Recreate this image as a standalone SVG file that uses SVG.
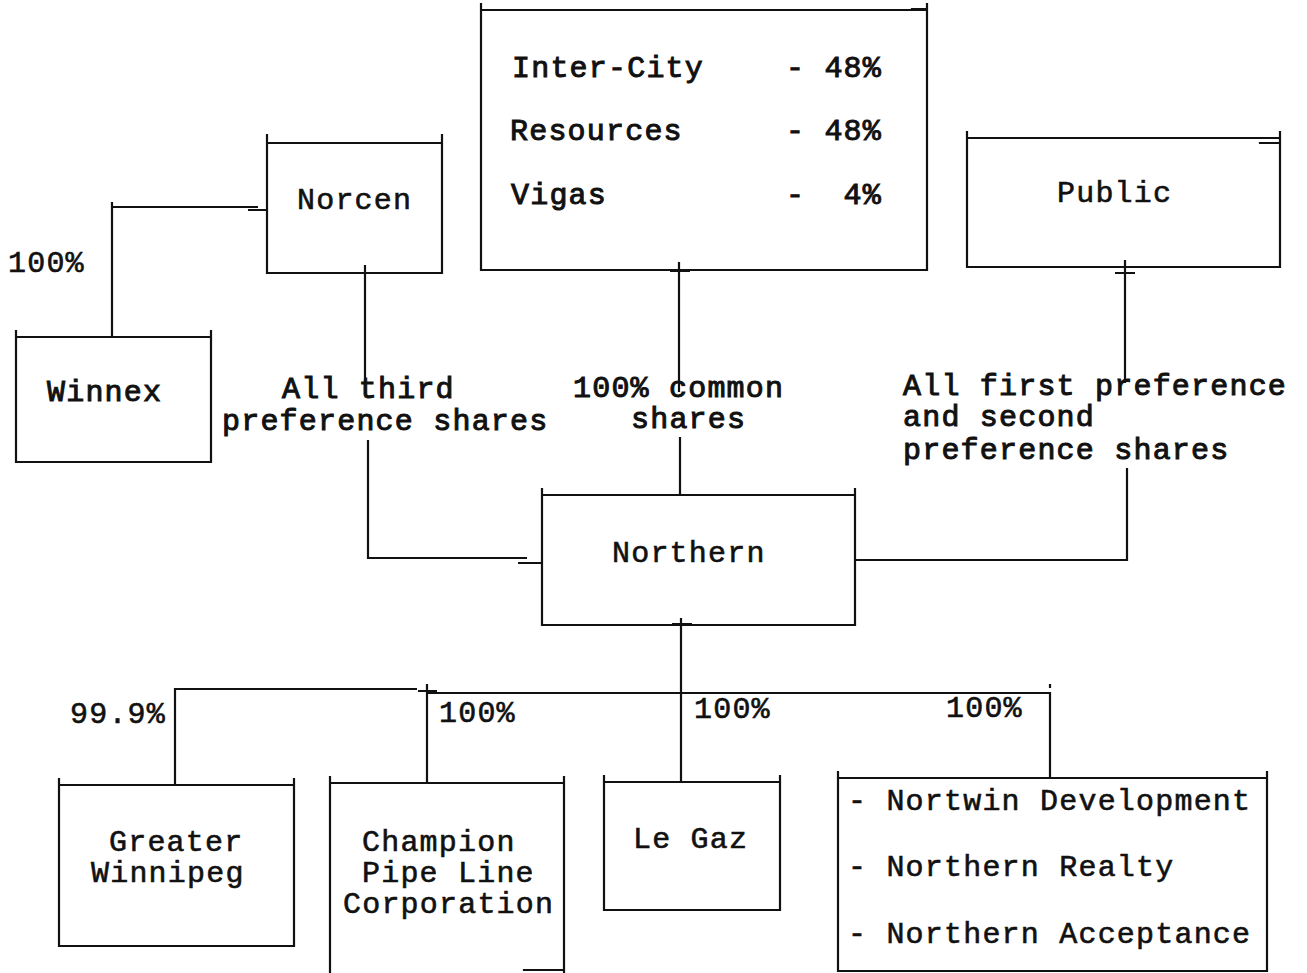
<svg xmlns="http://www.w3.org/2000/svg" width="1307" height="973" viewBox="0 0 1307 973">
<style>
.bx{fill:none;stroke:#111;stroke-width:2.2;stroke-linecap:square}
.cn{fill:none;stroke:#111;stroke-width:2.2}
text{font-family:"Liberation Mono","DejaVu Sans Mono",monospace;font-size:30px;letter-spacing:1.2px;fill:#111;stroke:#111;stroke-width:0.6;white-space:pre}
.h{stroke-width:1}
</style>
<rect width="1307" height="973" fill="#fff"/>
<g id="connectors">
<path class="cn" d="M112,202 V337 M112,207 H258 M248,210 H267"/>
<path class="cn" d="M365,265 V385 M368,440 V558 H527 M518,563 H542"/>
<path class="cn" d="M679,262 V392 M680,437 V495 M670,271 H690"/>
<path class="cn" d="M1125,260 V383 M1127,468 V560 H856 M1115,273 H1135"/>
<path class="cn" d="M681,618 V782 M672,624 H692"/>
<path class="cn" d="M175,785 V689 H417 M427,684 V783 M418,691 H437 M427,693 H1050 V778 M1050,684 V688"/>
</g>
<g id="owners">
<path class="bx" d="M481,4 V270 M927,4 V270 M481,10 H927 M481,270 H927 M912,9 H926"/>
<text x="512" y="77" class="h">Inter-City</text>
<text x="786" y="77" class="h">- 48%</text>
<text x="510" y="140" class="h">Resources</text>
<text x="786" y="140" class="h">- 48%</text>
<text x="511" y="204" class="h">Vigas</text>
<text x="786" y="204" class="h" xml:space="preserve">-  4%</text>
</g>
<g id="norcen">
<path class="bx" d="M267,135 V273 M442,135 V273 M267,143 H442 M267,273 H442"/>
<text x="297" y="209">Norcen</text>
</g>
<g id="winnex">
<path class="bx" d="M16,331 V462 M211,331 V462 M16,337 H211 M16,462 H211"/>
<text x="47" y="401" class="h">Winnex</text>
</g>
<g id="public">
<path class="bx" d="M967,132 V267 M1280,132 V267 M967,138 H1280 M967,267 H1280 M1260,143 H1280"/>
<text x="1057" y="202">Public</text>
</g>
<g id="northern">
<path class="bx" d="M542,489 V625 M855,489 V625 M542,495 H855 M542,625 H855"/>
<text x="612" y="562">Northern</text>
</g>
<g id="labels">
<text x="8" y="272">100%</text>
<text x="282" y="398" class="h">All third</text>
<text x="222" y="430" class="h">preference shares</text>
<text x="573" y="397" class="h">100% common</text>
<text x="631" y="428" class="h">shares</text>
<text x="903" y="395" class="h">All first preference</text>
<text x="903" y="426" class="h">and second</text>
<text x="903" y="459" class="h">preference shares</text>
<text x="70" y="723">99.9%</text>
<text x="439" y="722">100%</text>
<text x="694" y="718">100%</text>
<text x="946" y="717">100%</text>
</g>
<g id="greater-winnipeg">
<path class="bx" d="M59,779 V946 M294,779 V946 M59,785 H294 M59,946 H294"/>
<text x="109" y="851">Greater</text>
<text x="91" y="882">Winnipeg</text>
</g>
<g id="champion">
<path class="bx" d="M330,777 V975 M564,777 V975 M330,783 H564 M524,970 H564"/>
<text x="362" y="851">Champion</text>
<text x="362" y="882">Pipe Line</text>
<text x="343" y="913">Corporation</text>
</g>
<g id="le-gaz">
<path class="bx" d="M604,776 V910 M780,776 V910 M604,782 H780 M604,910 H780"/>
<text x="633" y="848">Le Gaz</text>
</g>
<g id="nortwin-group">
<path class="bx" d="M838,772 V971 M1267,772 V971 M838,778 H1267 M838,971 H1267"/>
<text x="848" y="810">- Nortwin Development</text>
<text x="848" y="876">- Northern Realty</text>
<text x="848" y="943">- Northern Acceptance</text>
</g>
</svg>
